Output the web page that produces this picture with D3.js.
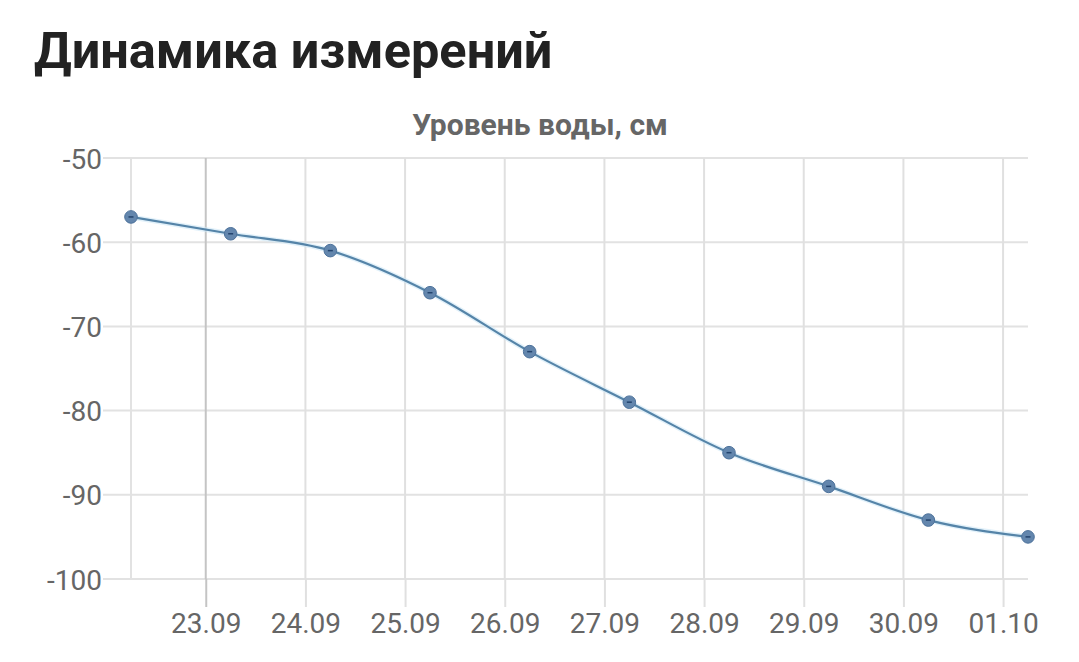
<!DOCTYPE html>
<html><head><meta charset="utf-8">
<script src="https://cdn.jsdelivr.net/npm/d3@7"></script>
<style>
html,body{margin:0;padding:0;background:#fff;}
svg{display:block;font-family:Roboto,"Noto Sans",sans-serif;}
</style></head>
<body>
<svg id="chart" width="1079" height="662"></svg>
<script>
const title = "Динамика измерений";
const subtitle = "Уровень воды, см";
const dates = ["2023-09-22T06:00","2023-09-23T06:00","2023-09-24T06:00","2023-09-25T06:00","2023-09-26T06:00","2023-09-27T06:00","2023-09-28T06:00","2023-09-29T06:00","2023-09-30T06:00","2023-10-01T06:00"];
const values = [-57,-59,-61,-66,-73,-79,-85,-89,-93,-95];
const yTicks = [-50,-60,-70,-80,-90,-100];

const data = dates.map((d,i)=>({t:new Date(d), v:values[i]}));

const svg = d3.select("#chart");
const L = 131, R = 1028, T = 158, B = 579;

const x = d3.scaleTime().domain(d3.extent(data,d=>d.t)).range([L,R]);
const y = d3.scaleLinear().domain([-100,-50]).range([B,T]);

// titles
svg.append("text").attr("x",34).attr("y",68).attr("font-size",50.5).attr("font-weight",700)
  .attr("fill","#222").text(title);
svg.append("text").attr("x",540).attr("y",135).attr("text-anchor","middle")
  .attr("font-size",30).attr("font-weight",700).attr("fill","#666").text(subtitle);

// y grid + labels
const gy = svg.append("g").attr("transform",`translate(${L-28},0)`);
gy.call(d3.axisLeft(y).tickValues(yTicks).tickSize(0).tickPadding(1).tickFormat(d=>d));
gy.select(".domain").remove();
gy.selectAll("text").attr("font-size",28).attr("fill","#666").attr("font-family","Roboto,sans-serif").attr("dy","0.36em");
svg.append("g").selectAll("line").data(yTicks).join("line")
  .attr("x1",L-28).attr("x2",R).attr("y1",d=>y(d)).attr("y2",d=>y(d))
  .attr("stroke","#e2e2e2").attr("stroke-width",2);

// x grid
const xt = x.ticks(d3.timeDay.every(1));
svg.append("line").attr("x1",L).attr("x2",L).attr("y1",T).attr("y2",B).attr("stroke","#e2e2e2").attr("stroke-width",2);
const gx = svg.append("g").attr("transform",`translate(0,${B})`);
gx.call(d3.axisBottom(x).ticks(d3.timeDay.every(1)).tickFormat(d3.timeFormat("%d.%m")).tickSize(28).tickPadding(6));
gx.select(".domain").remove();
gx.selectAll(".tick line").attr("stroke",(d,i)=>i===0?"#c4c4c4":"#e0e0e0").attr("stroke-width",2);
gx.selectAll("text").attr("font-size",28).attr("fill","#666").attr("font-family","Roboto,sans-serif");
svg.append("g").selectAll("line").data(xt).join("line")
  .attr("x1",d=>x(d)).attr("x2",d=>x(d)).attr("y1",T).attr("y2",B)
  .attr("stroke",(d,i)=>i===0?"#c4c4c4":"#e0e0e0").attr("stroke-width",2);

// line
const line = d3.line().x(d=>x(d.t)).y(d=>y(d.v)).curve(d3.curveMonotoneX);
svg.append("path").datum(data).attr("d",line).attr("fill","none")
  .attr("stroke","#cfe8f7").attr("stroke-width",5).attr("opacity",0.6);
svg.append("path").datum(data).attr("d",line).attr("fill","none")
  .attr("stroke","#5584a8").attr("stroke-width",2.2);

svg.append("g").selectAll("circle").data(data).join("circle")
  .attr("cx",d=>x(d.t)).attr("cy",d=>y(d.v)).attr("r",6.3)
  .attr("fill","#6386ad").attr("stroke","#4d729b").attr("stroke-width",1);
svg.append("g").selectAll("line").data(data).join("line")
  .attr("x1",d=>x(d.t)-2.5).attr("x2",d=>x(d.t)+2.5).attr("y1",d=>y(d.v)).attr("y2",d=>y(d.v))
  .attr("stroke","#23446e").attr("stroke-width",1.5);
</script>
</body></html>
